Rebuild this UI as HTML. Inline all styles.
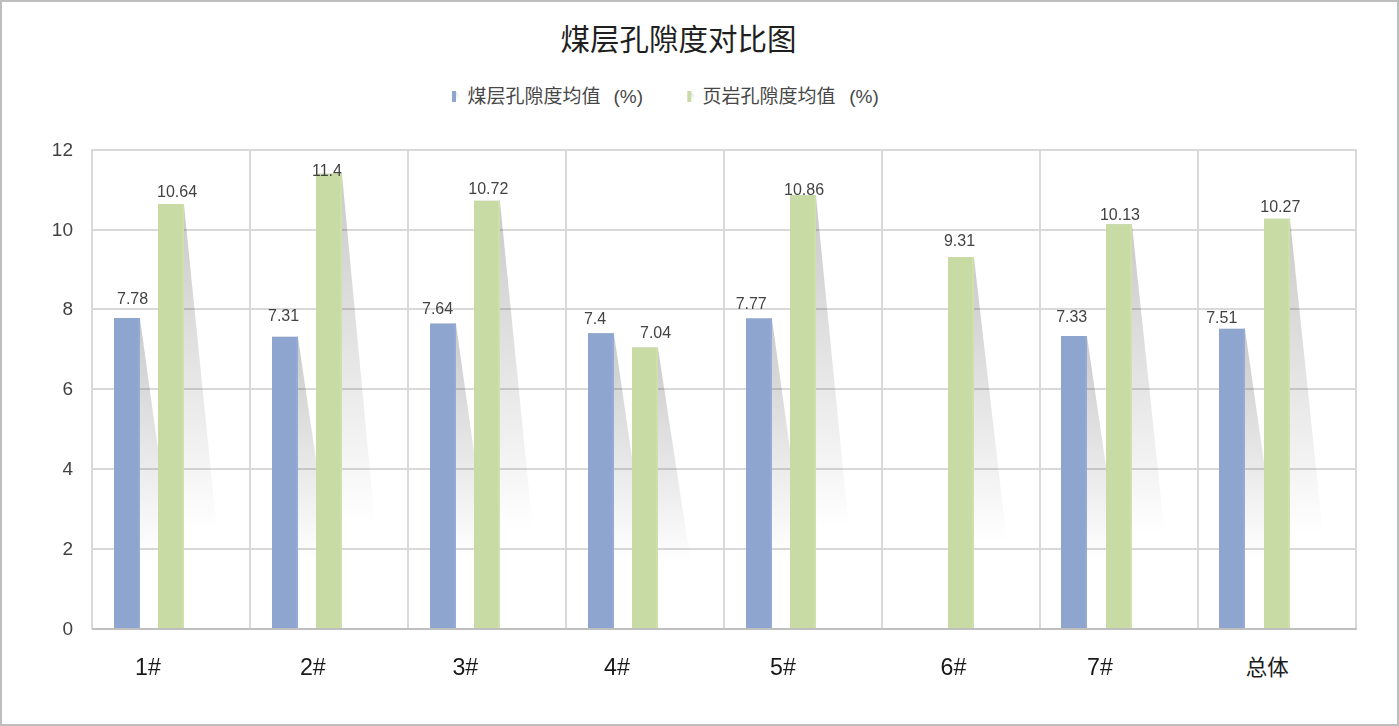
<!DOCTYPE html>
<html lang="zh"><head><meta charset="utf-8"><title>煤层孔隙度对比图</title>
<style>html,body{margin:0;padding:0;background:#fff;}body{width:1399px;height:726px;overflow:hidden;font-family:"Liberation Sans",sans-serif;}svg{display:block;}</style></head>
<body>
<svg width="1399" height="726" viewBox="0 0 1399 726" role="img" aria-label="煤层孔隙度对比图">
<defs>
<linearGradient id="sh" x1="0" y1="0" x2="0" y2="1"><stop offset="0" stop-color="#000" stop-opacity="0.21"/><stop offset="1" stop-color="#000" stop-opacity="0"/></linearGradient>
<filter id="bl" x="-20%" y="-5%" width="140%" height="110%"><feGaussianBlur stdDeviation="0.5"/></filter>
</defs>
<rect x="0" y="0" width="1399" height="726" fill="#bebebe"/>
<rect x="2" y="2" width="1395" height="722" fill="#fff"/>
<g stroke="#d9d9d9" stroke-width="2" fill="none"><line x1="91.10" y1="150.0" x2="1356.90" y2="150.0"/><line x1="91.10" y1="230.0" x2="1356.90" y2="230.0"/><line x1="91.10" y1="309.0" x2="1356.90" y2="309.0"/><line x1="91.10" y1="389.0" x2="1356.90" y2="389.0"/><line x1="91.10" y1="469.0" x2="1356.90" y2="469.0"/><line x1="91.10" y1="549.0" x2="1356.90" y2="549.0"/><line x1="92.00" y1="149.1" x2="92.00" y2="628.5999999999999"/><line x1="250.00" y1="149.1" x2="250.00" y2="628.5999999999999"/><line x1="408.00" y1="149.1" x2="408.00" y2="628.5999999999999"/><line x1="566.00" y1="149.1" x2="566.00" y2="628.5999999999999"/><line x1="724.00" y1="149.1" x2="724.00" y2="628.5999999999999"/><line x1="882.00" y1="149.1" x2="882.00" y2="628.5999999999999"/><line x1="1040.00" y1="149.1" x2="1040.00" y2="628.5999999999999"/><line x1="1198.00" y1="149.1" x2="1198.00" y2="628.5999999999999"/><line x1="1356.00" y1="149.1" x2="1356.00" y2="628.5999999999999"/></g>
<line x1="91.90" y1="629" x2="1356.90" y2="629" stroke="#bfbfbf" stroke-width="1.8"/>
<g fill="url(#sh)" filter="url(#bl)"><path d="M114.0 318.0L139.9 318.0L172.9 556.7L114.0 556.7Z"/><path d="M158.0 204.0L183.9 204.0L216.9 530.5L158.0 530.5Z"/><path d="M272.0 336.8L297.9 336.8L330.9 561.0L272.0 561.0Z"/><path d="M316.0 173.7L341.9 173.7L374.9 523.5L316.0 523.5Z"/><path d="M430.0 323.6L455.9 323.6L488.9 558.0L430.0 558.0Z"/><path d="M474.0 200.8L499.9 200.8L532.9 529.7L474.0 529.7Z"/><path d="M588.0 333.2L613.9 333.2L646.9 560.2L588.0 560.2Z"/><path d="M632.0 347.5L657.9 347.5L690.9 563.5L632.0 563.5Z"/><path d="M746.0 318.4L771.9 318.4L804.9 556.8L746.0 556.8Z"/><path d="M790.0 195.2L815.9 195.2L848.9 528.5L790.0 528.5Z"/><path d="M948.0 257.0L973.9 257.0L1006.9 542.7L948.0 542.7Z"/><path d="M1061.0 336.0L1086.9 336.0L1119.9 560.8L1061.0 560.8Z"/><path d="M1106.0 224.3L1131.9 224.3L1164.9 535.2L1106.0 535.2Z"/><path d="M1219.0 328.8L1244.9 328.8L1277.9 559.2L1219.0 559.2Z"/><path d="M1264.0 218.7L1289.9 218.7L1322.9 533.9L1264.0 533.9Z"/></g>
<g fill="#8ea5cf"><rect x="114.0" y="318.0" width="25.9" height="310.0"/><rect x="138.2" y="318.0" width="1.7" height="310.0" fill="#95abd8"/><rect x="272.0" y="336.8" width="25.9" height="291.2"/><rect x="296.2" y="336.8" width="1.7" height="291.2" fill="#95abd8"/><rect x="430.0" y="323.6" width="25.9" height="304.4"/><rect x="454.2" y="323.6" width="1.7" height="304.4" fill="#95abd8"/><rect x="588.0" y="333.2" width="25.9" height="294.8"/><rect x="612.2" y="333.2" width="1.7" height="294.8" fill="#95abd8"/><rect x="746.0" y="318.4" width="25.9" height="309.6"/><rect x="770.2" y="318.4" width="1.7" height="309.6" fill="#95abd8"/><rect x="1061.0" y="336.0" width="25.9" height="292.0"/><rect x="1085.2" y="336.0" width="1.7" height="292.0" fill="#95abd8"/><rect x="1219.0" y="328.8" width="25.9" height="299.2"/><rect x="1243.2" y="328.8" width="1.7" height="299.2" fill="#95abd8"/></g>
<g fill="#c9dba4"><rect x="158.0" y="204.0" width="25.9" height="424.0"/><rect x="182.2" y="204.0" width="1.7" height="424.0" fill="#cfe0ab"/><rect x="316.0" y="173.7" width="25.9" height="454.3"/><rect x="340.2" y="173.7" width="1.7" height="454.3" fill="#cfe0ab"/><rect x="474.0" y="200.8" width="25.9" height="427.2"/><rect x="498.2" y="200.8" width="1.7" height="427.2" fill="#cfe0ab"/><rect x="632.0" y="347.5" width="25.9" height="280.5"/><rect x="656.2" y="347.5" width="1.7" height="280.5" fill="#cfe0ab"/><rect x="790.0" y="195.2" width="25.9" height="432.8"/><rect x="814.2" y="195.2" width="1.7" height="432.8" fill="#cfe0ab"/><rect x="948.0" y="257.0" width="25.9" height="371.0"/><rect x="972.2" y="257.0" width="1.7" height="371.0" fill="#cfe0ab"/><rect x="1106.0" y="224.3" width="25.9" height="403.7"/><rect x="1130.2" y="224.3" width="1.7" height="403.7" fill="#cfe0ab"/><rect x="1264.0" y="218.7" width="25.9" height="409.3"/><rect x="1288.2" y="218.7" width="1.7" height="409.3" fill="#cfe0ab"/></g>
<g opacity="0.99" font-family="Liberation Sans, sans-serif" font-size="19" fill="#404040" text-anchor="end"><text x="73.0" y="156.1">12</text><text x="73.0" y="236.1">10</text><text x="73.0" y="315.1">8</text><text x="73.0" y="395.1">6</text><text x="73.0" y="475.1">4</text><text x="73.0" y="555.1">2</text><text x="73.0" y="634.9">0</text></g>
<g opacity="0.99" font-family="Liberation Sans, sans-serif" font-size="16" fill="#404040" text-anchor="middle"><text x="132.6" y="304">7.78</text><text x="177.1" y="197">10.64</text><text x="283.6" y="321">7.31</text><text x="326.9" y="176">11.4</text><text x="437.6" y="314">7.64</text><text x="488.3" y="194">10.72</text><text x="595.1" y="324">7.4</text><text x="655.6" y="337.6">7.04</text><text x="751.2" y="309">7.77</text><text x="804.1" y="195">10.86</text><text x="959.5" y="246">9.31</text><text x="1071.7" y="322">7.33</text><text x="1120.0" y="220">10.13</text><text x="1221.8" y="323">7.51</text><text x="1280.3" y="212">10.27</text></g>
<g opacity="0.99" font-family="Liberation Sans, sans-serif" font-size="23.2" fill="#161616" text-anchor="middle"><text x="148.0" y="674.9">1#</text><text x="312.8" y="674.9">2#</text><text x="465.3" y="674.9">3#</text><text x="617.0" y="674.9">4#</text><text x="782.9" y="674.9">5#</text><text x="953.5" y="674.9">6#</text><text x="1100.0" y="674.9">7#</text></g>
<text x="1267.2" y="675" font-family="'Liberation Sans', 'Noto Sans CJK SC', sans-serif" font-size="21.5" fill="#1c1c1c" text-anchor="middle">总体</text>
<text x="678.5" y="50" font-family="'Liberation Sans', 'Noto Sans CJK SC', sans-serif" font-size="29.5" fill="#1f1f1f" text-anchor="middle">煤层孔隙度对比图</text>
<path d="M456 91.2L461.2 99.6L456 99.6Z" fill="url(#sh)" fill-opacity="0.62" filter="url(#bl)"/>
<rect x="452" y="91" width="4" height="11" fill="#8ea5cf"/>
<text x="467.5" y="103.4" font-family="'Liberation Sans', 'Noto Sans CJK SC', sans-serif" font-size="19" fill="#474747">煤层孔隙度均值</text>
<text x="628.3" y="103.4" font-family="'Liberation Sans', 'Noto Sans CJK SC', sans-serif" font-size="19" fill="#474747" text-anchor="middle">(%)</text>
<path d="M691.3 91.2L696.5 99.6L691.3 99.6Z" fill="url(#sh)" fill-opacity="0.62" filter="url(#bl)"/>
<rect x="687.3" y="91" width="4" height="11" fill="#c9dba4"/>
<text x="702.5" y="103.4" font-family="'Liberation Sans', 'Noto Sans CJK SC', sans-serif" font-size="19" fill="#474747">页岩孔隙度均值</text>
<text x="864" y="103.4" font-family="'Liberation Sans', 'Noto Sans CJK SC', sans-serif" font-size="19" fill="#474747" text-anchor="middle">(%)</text>
</svg>
</body></html>
